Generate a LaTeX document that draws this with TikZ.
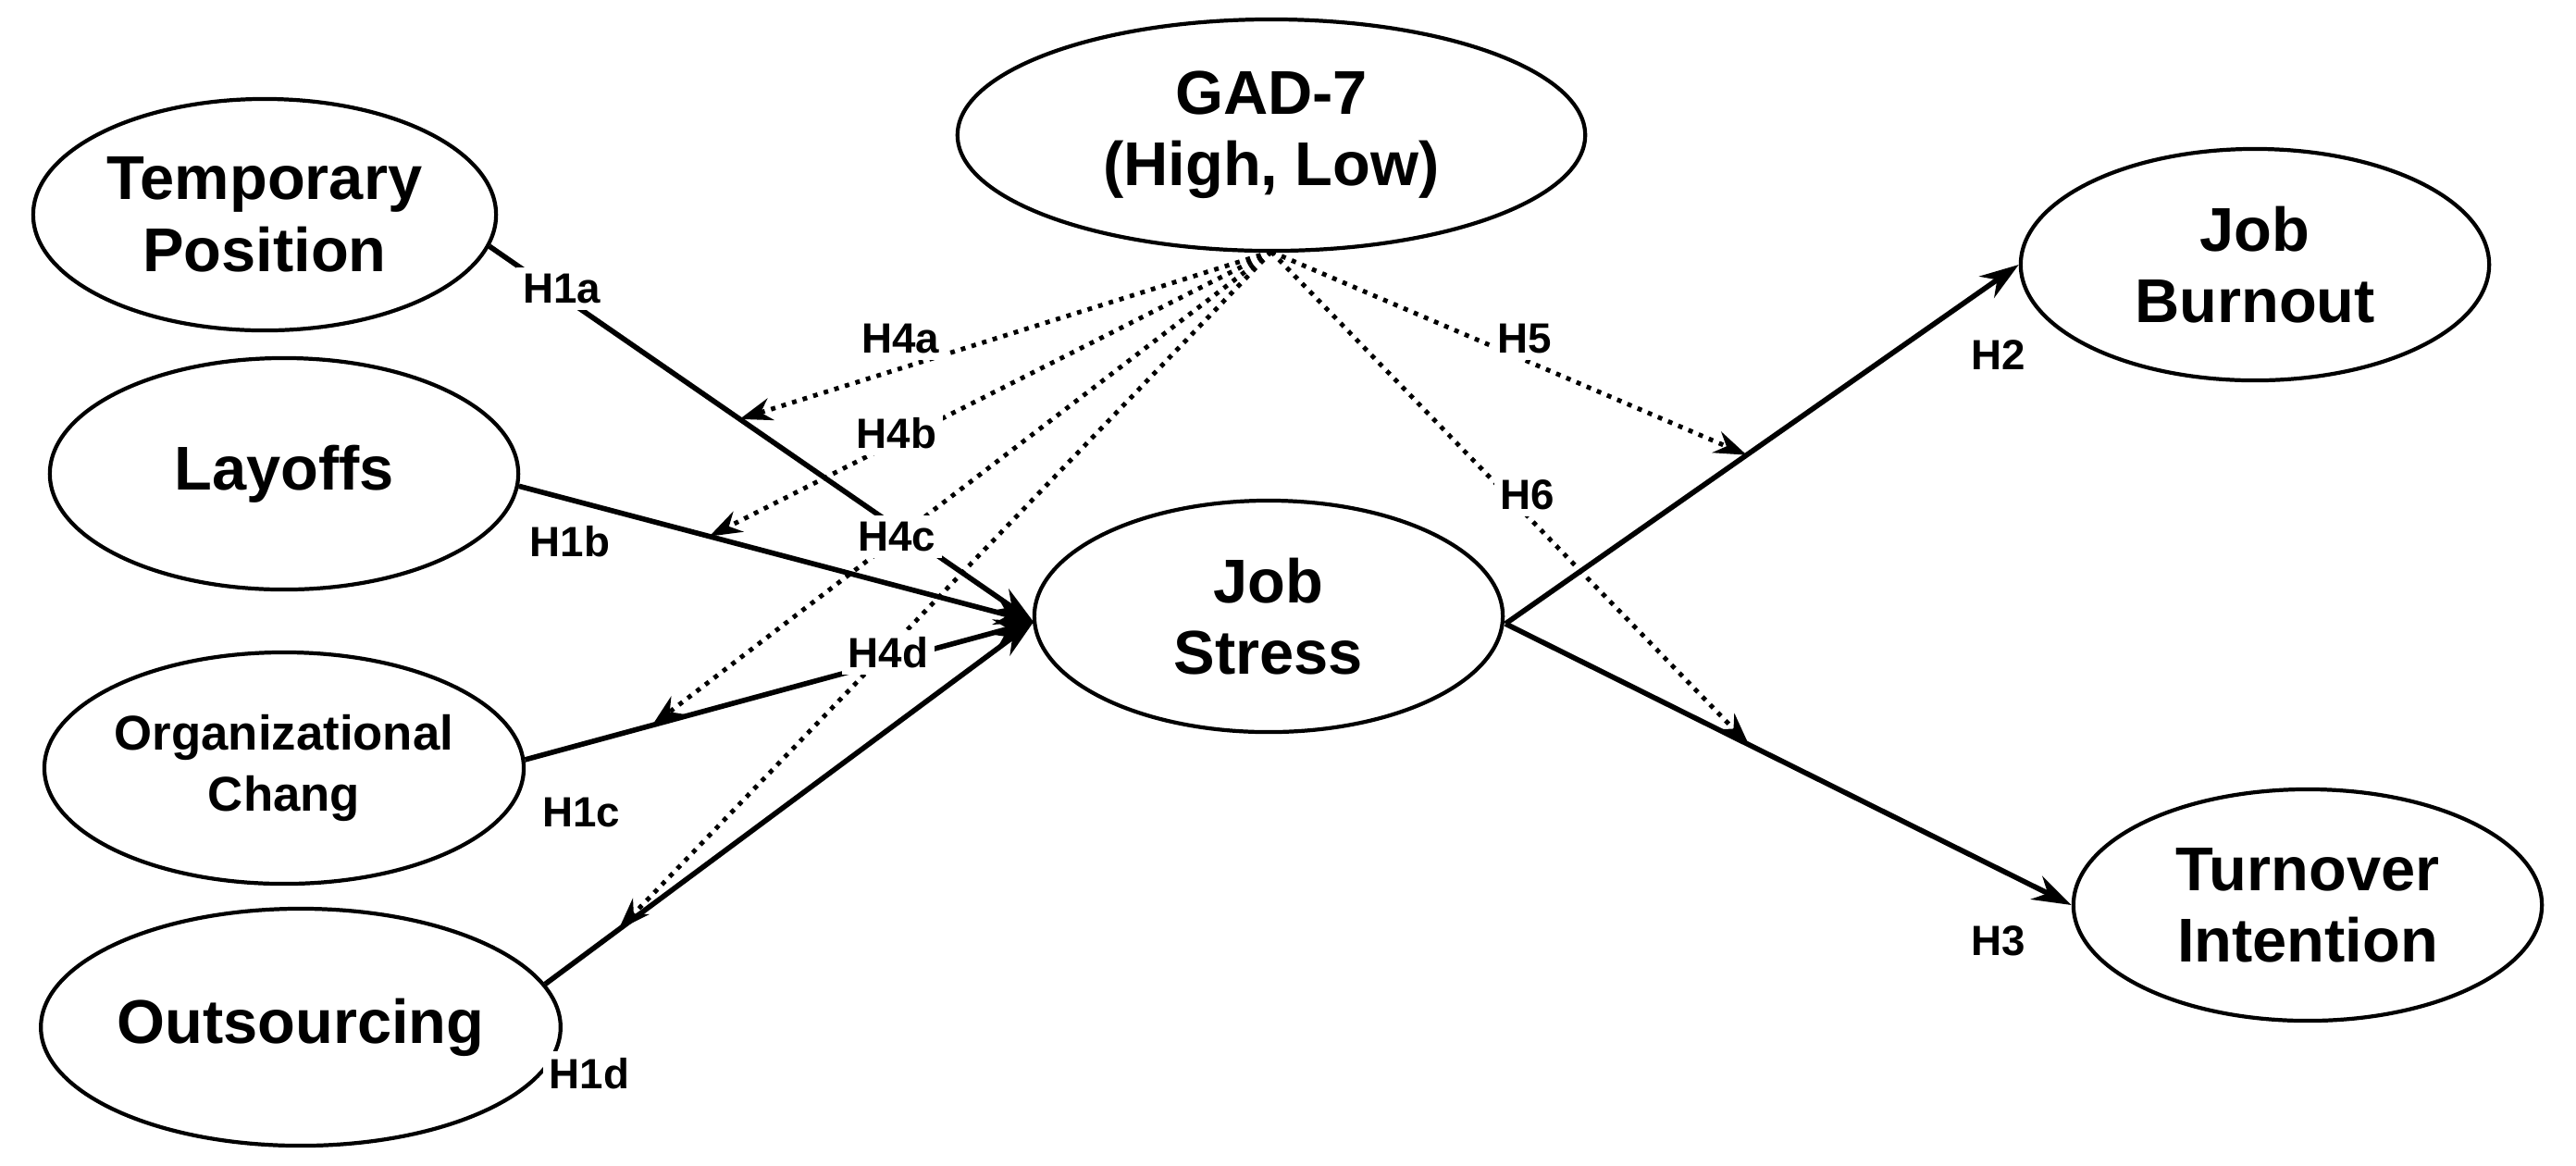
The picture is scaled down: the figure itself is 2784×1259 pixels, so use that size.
\documentclass[tikz,border=0pt]{standalone}
\usepackage{fontspec}
\setmainfont{Liberation Sans}
\usetikzlibrary{arrows.meta,shapes.geometric}
\begin{document}
\begin{tikzpicture}[x=0.01cm,y=-0.01cm,
  big/.style={font=\fontsize{19}{22}\selectfont\bfseries,align=center},
  lab/.style={font=\fontsize{13}{15}\selectfont\bfseries,fill=white,inner sep=2pt},
  sol/.style={line width=1.6pt,-{Stealth[length=12pt,width=8pt]}},
  dot/.style={line width=1.4pt,dotted,-{Stealth[length=10pt,width=7pt]}}]
\useasboundingbox (0,0) rectangle (2784,1259);
\tikzset{e/.style={draw,line width=1.2pt,ellipse,inner sep=0pt}}
\node[e,minimum width=6.78cm,minimum height=2.5cm,big] (gad) at (1374,146) {GAD-7\\(High, Low)};
\node[e,minimum width=5cm,minimum height=2.5cm,big] (tp) at (286,232) {Temporary\\Position};
\node[e,minimum width=5.06cm,minimum height=2.5cm,big] (lay) at (307,512) {Layoffs};
\node[e,minimum width=5.06cm,minimum height=2.5cm,font=\fontsize{15}{19}\selectfont\bfseries,align=center] (org) at (307,830) {Organizational\\Chang};
\node[e,minimum width=5.06cm,minimum height=2.56cm,big] (out) at (325,1110) {Outsourcing};
\node[e,minimum width=5.06cm,minimum height=2.5cm,big] (js) at (1371,666) {Job\\Stress};
\node[e,minimum width=5.06cm,minimum height=2.5cm,big] (jb) at (2437,286) {Job\\Burnout};
\node[e,minimum width=5.06cm,minimum height=2.5cm,big] (ti) at (2494,978) {Turnover\\Intention};
\coordinate (jsw) at (1117,672);
\coordinate (jse) at (1627,674);
\draw[sol] (tp.-8) -- coordinate[pos=0.46] (a) (jsw);
\draw[sol] (lay.-3) -- coordinate[pos=0.37] (b) (jsw);
\draw[sol] (org.2) -- coordinate[pos=0.25] (c) (jsw);
\draw[sol] (out.10) -- coordinate[pos=0.15] (d) (jsw);
\draw[sol] (jse) -- coordinate[pos=0.47] (f) (jb.180);
\draw[sol] (jse) -- coordinate[pos=0.43] (g) (ti.180);
\coordinate (gs) at (1374,272);
\foreach \t in {a,b,c,d,f,g} \draw[dot] (gs) -- (\t);
\node[lab] at (607,312) {H1a};
\node[lab] at (616,585) {H1b};
\node[lab] at (628,878) {H1c};
\node[lab] at (637,1160) {H1d};
\node[lab] at (973,366) {H4a};
\node[lab] at (969,468) {H4b};
\node[lab] at (969,580) {H4c};
\node[lab] at (960,705) {H4d};
\node[lab] at (1648,366) {H5};
\node[lab] at (1651,535) {H6};
\node[lab] at (2160,384) {H2};
\node[lab] at (2160,1017) {H3};
\end{tikzpicture}
\end{document}
